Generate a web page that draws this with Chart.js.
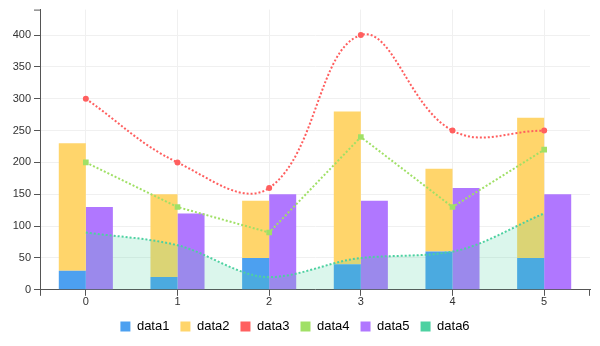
<!DOCTYPE html>
<html>
<head>
<meta charset="utf-8">
<script src="https://cdn.jsdelivr.net/npm/chart.js@4"></script>
<style>
  html, body { margin: 0; padding: 0; background: #fff; }
  #wrap { width: 600px; height: 346px; }
</style>
</head>
<body>
<div id="wrap"><canvas id="chart"></canvas></div>
<script>
(function () {

// data
var labels = ["0", "1", "2", "3", "4", "5"];
var data1 = [30, 20, 50, 40, 60, 50];
var data2 = [200, 130, 90, 240, 130, 220];
var data3 = [300, 200, 160, 400, 250, 250];
var data4 = [200, 130, 90, 240, 130, 220];
var data5 = [130, 120, 150, 140, 160, 150];
var data6 = [90, 70, 20, 50, 60, 120];
var yTicks = [0, 50, 100, 150, 200, 250, 300, 350, 400];

var colors = {
    data1: "#4ca0f0",
    data2: "#ffd56b",
    data3: "#ff5f5f",
    data4: "#a0e066",
    data5: "#b077ff",
    data6: "#4dd1a1"
};

// outer tick marks at the ends of both axes
var outerTicks = {
    id: "outerTicks",
    afterDraw: function (chart) {
        var a = chart.chartArea, c = chart.ctx;
        c.save();
        c.strokeStyle = "#555";
        c.lineWidth = 1;
        c.beginPath();
        c.moveTo(a.left - 6, a.top + 0.5); c.lineTo(a.left, a.top + 0.5);
        c.moveTo(a.left + 0.5, a.bottom); c.lineTo(a.left + 0.5, a.bottom + 6);
        c.moveTo(a.right - 0.5, a.bottom); c.lineTo(a.right - 0.5, a.bottom + 6);
        c.stroke();
        c.restore();
    }
};

var ctx = document.getElementById("chart").getContext("2d");

new Chart(ctx, {
    data: {
        labels: labels,
        datasets: [
            { type: "bar", label: "data1", data: data1, stack: "a", order: 4,
              backgroundColor: colors.data1 },
            { type: "bar", label: "data2", data: data2, stack: "a", order: 5,
              backgroundColor: colors.data2 },
            { type: "line", label: "data3", data: data3, stack: "l3", order: 1,
              borderColor: colors.data3, backgroundColor: colors.data3,
              borderWidth: 2, borderDash: [2, 2], tension: 0.4, fill: false,
              pointRadius: 3, pointBorderWidth: 0 },
            { type: "line", label: "data4", data: data4, stack: "l4", order: 2,
              borderColor: colors.data4, backgroundColor: colors.data4,
              borderWidth: 2, borderDash: [2, 2], tension: 0, fill: false,
              pointStyle: "rect", pointRadius: 4, pointBorderWidth: 0 },
            { type: "bar", label: "data5", data: data5, stack: "b", order: 6,
              backgroundColor: colors.data5 },
            { type: "line", label: "data6", data: data6, stack: "l6", order: 3,
              borderColor: colors.data6, backgroundColor: "rgba(77, 209, 161, 0.2)",
              borderWidth: 2, borderDash: [2, 2], cubicInterpolationMode: "monotone",
              fill: "origin", pointRadius: 0 }
        ]
    },
    options: {
        responsive: true,
        maintainAspectRatio: false,
        animation: false,
        datasets: {
            bar: { categoryPercentage: 0.59, barPercentage: 1.0 }
        },
        layout: { padding: { top: 9, right: 10, left: 0, bottom: 3 } },
        scales: {
            x: {
                stacked: true,
                offset: true,
                grid: { offset: false, color: "#f0f0f0", tickColor: "#555", tickLength: 6 },
                border: { color: "#555", width: 1 },
                ticks: { color: "#333", font: { family: "Liberation Sans", size: 11 }, padding: 0 }
            },
            y: {
                stacked: true,
                min: 0,
                max: 440,
                afterFit: function (scale) { scale.width = 40; },
                afterBuildTicks: function (scale) {
                    scale.ticks = yTicks.map(function (v) { return { value: v }; });
                },
                grid: { color: "#f0f0f0", tickColor: "#555", tickLength: 6 },
                border: { color: "#555", width: 1 },
                ticks: { color: "#333", font: { family: "Liberation Sans", size: 11 }, padding: 3 }
            }
        },
        plugins: {
            tooltip: { enabled: false },
            legend: {
                position: "bottom",
                labels: {
                    boxWidth: 10,
                    boxHeight: 10,
                    padding: 11,
                    color: "#333",
                    font: { family: "Liberation Sans", size: 13 },
                    generateLabels: function (chart) {
                        return chart.data.datasets.map(function (ds, i) {
                            return {
                                text: ds.label,
                                fillStyle: colors[ds.label],
                                strokeStyle: colors[ds.label],
                                lineWidth: 0,
                                datasetIndex: i,
                                hidden: !chart.isDatasetVisible(i)
                            };
                        });
                    }
                }
            }
        }
    },
    plugins: [outerTicks]
});

})();
</script>
</body>
</html>
